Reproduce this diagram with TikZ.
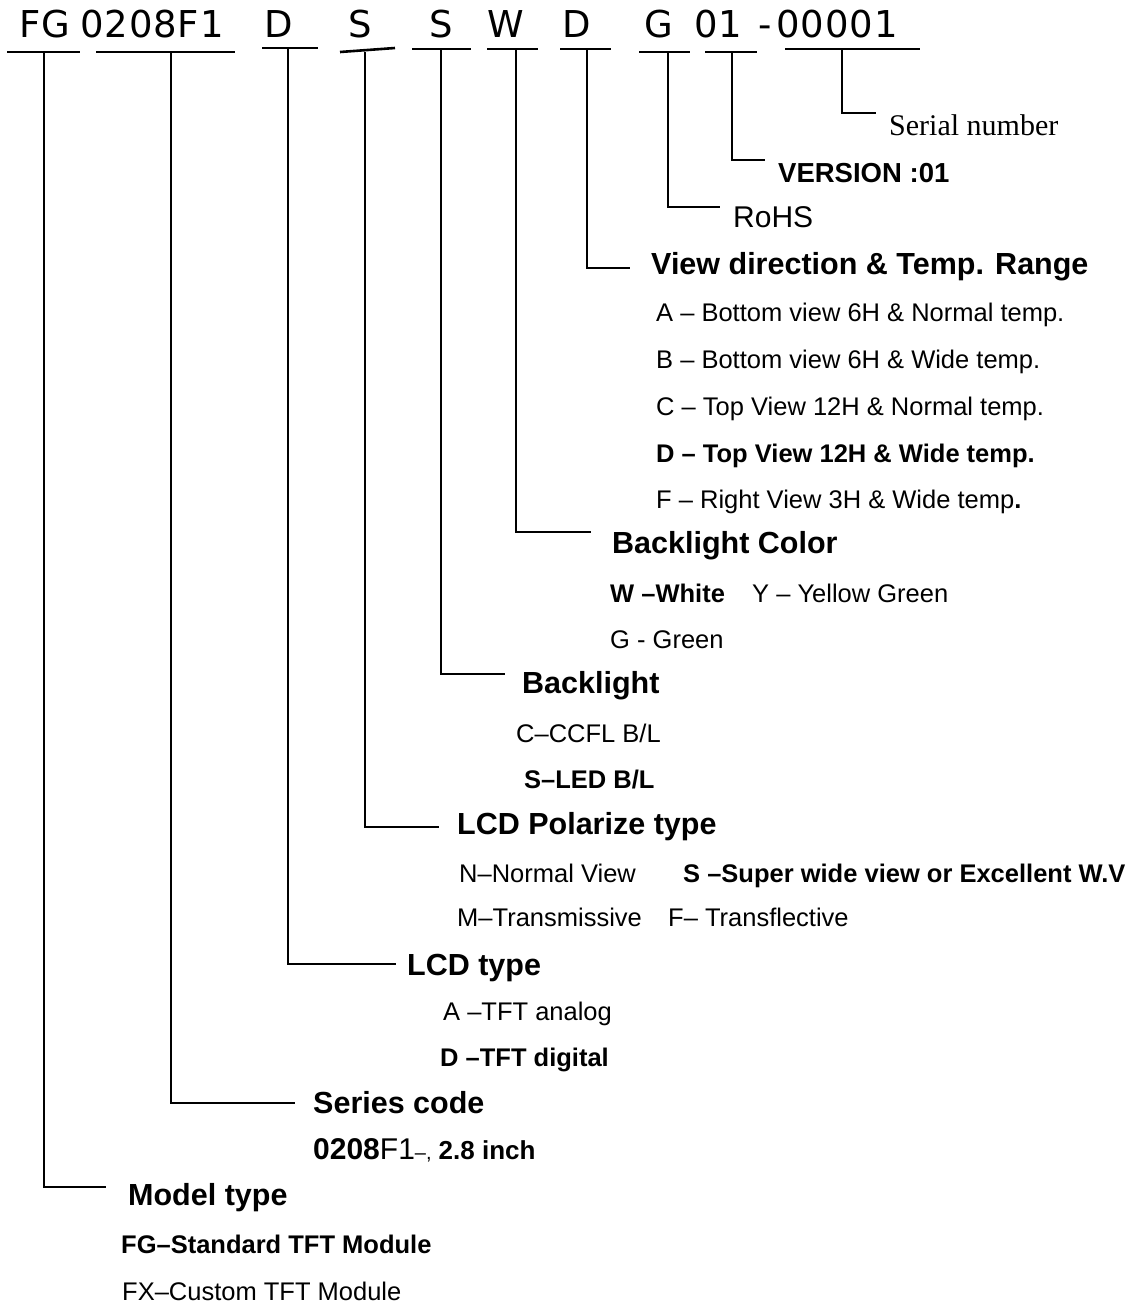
\documentclass[tikz,border=0pt]{standalone}
\usepackage{fontspec}
\setmainfont{Liberation Sans}
\newfontfamily\serialfont{Liberation Serif}
\newfontfamily\codefont[LetterSpace=2.5]{DejaVu Sans}
\usetikzlibrary{calc}

\tikzset{
    codeline/.style={black, line width=2.6pt},
    tapline/.style={black, line width=2.4pt},
    code/.style={anchor=base, inner sep=0pt, font=\codefont\fontsize{37}{39}\selectfont},
    head/.style={anchor=base west, inner sep=0pt, font=\bfseries\fontsize{30.5}{32}\selectfont},
    entry/.style={anchor=base west, inner sep=0pt, font=\fontsize{25.5}{27}\selectfont}
}

\begin{document}
\begin{tikzpicture}[x=1pt, y=-1pt]
    \useasboundingbox (0,0) rectangle (1137,1307);

    % part number with its underlines
    \foreach \i/\txt/\cx/\l/\r/\yl/\yr/\t in {
        1/FG/45/7/80/52/52/44,
        2/0208F1/152/96/235/52/52/171,
        3/D/279/262/318/48/48/288,
        4/S/360/340/395/52/48/365,
        5/S/441/412/471/49/49/441,
        6/W/506/487/538/49/49/516,
        7/D/577/560/611/49/49/587,
        8/G/659/639/690/52/52/668,
        9/01/718/705/757/52/52/732,
        10/00001/837/785/920/49/49/842}{

        \node[code] (c\i) at (\cx,37) {\txt};
        \draw[codeline] (\l,\yl) -- (\r,\yr);
        \coordinate (t\i) at (\t,\yl);
    }
    \node[code] (cdash) at (765,37) {-};

    % taps down to the headings
    \foreach \i/\x/\y in {
        1/106/1187,
        2/295/1103,
        3/396/964,
        4/439/827,
        5/505/674,
        6/591/532,
        7/630/268,
        8/720/207,
        9/765/160,
        10/876/113}{

        \coordinate (e\i) at (\x,\y);
        \draw[tapline] (t\i) |- (e\i);
    }

    % headings
    \node[head, font=\serialfont\fontsize{30}{32}\selectfont] (serial) at (889,135) {Serial number};
    \node[head, font=\bfseries\fontsize{27.5}{29}\selectfont] (version) at (778,182) {VERSION :01};
    \node[head, font=\fontsize{30}{32}\selectfont] (rohs) at (733,227) {RoHS};
    \node[head] (view) at (651,274) {View direction \& Temp. Range};
    \node[head] (bcolor) at (612,553) {Backlight Color};
    \node[head] (blight) at (522,693) {Backlight};
    \node[head] (polar) at (457,834) {LCD Polarize type};
    \node[head] (lcd) at (407,975) {LCD type};
    \node[head] (series) at (313,1113) {Series code};
    \node[head] (model) at (128,1205) {Model type};

    % view direction
    \foreach \i/\y/\txt in {
        a/321/{A -- Bottom view 6H \& Normal temp.},
        b/368/{B -- Bottom view 6H \& Wide temp.},
        c/415/{C -- Top View 12H \& Normal temp.},
        d/462/{\textbf{D -- Top View 12H \& Wide temp.}},
        f/508/{F -- Right View 3H \& Wide temp\textbf{.}}}{

        \node[entry] (view\i) at (656,\y) {\txt};
    }

    % backlight color
    \node[entry] (bcolorw) at (610,602) {\textbf{W --White}};
    \node[entry] (bcolory) at (752,602) {Y -- Yellow Green};
    \node[entry] (bcolorg) at (610,648) {G - Green};

    % backlight
    \node[entry] (blightc) at (516,742) {C--CCFL B/L};
    \node[entry] (blights) at (524,788) {\textbf{S--LED B/L}};

    % polarizer
    \node[entry] (polarn) at (459,882) {N--Normal View};
    \node[entry] (polars) at (683,882) {\textbf{S --Super wide view or Excellent W.V}};
    \node[entry] (polarm) at (457,926) {M--Transmissive};
    \node[entry] (polarf) at (668,926) {F-- Transflective};

    % lcd type
    \node[entry] (lcda) at (443,1020) {A --TFT analog};
    \node[entry] (lcdd) at (440,1066) {\textbf{D --TFT digital}};

    % series
    \node[entry] (seriesv) at (313,1159)
        {{\bfseries\fontsize{30}{32}\selectfont 0208}{\fontsize{30}{32}\selectfont F1}{\fontsize{20}{22}\selectfont --,} {\bfseries\fontsize{26}{28}\selectfont 2.8 inch}};

    % model
    \node[entry] (modelg) at (121,1253) {\textbf{FG--Standard TFT Module}};
    \node[entry] (modelx) at (122,1300) {FX--Custom TFT Module};
\end{tikzpicture}
\end{document}
